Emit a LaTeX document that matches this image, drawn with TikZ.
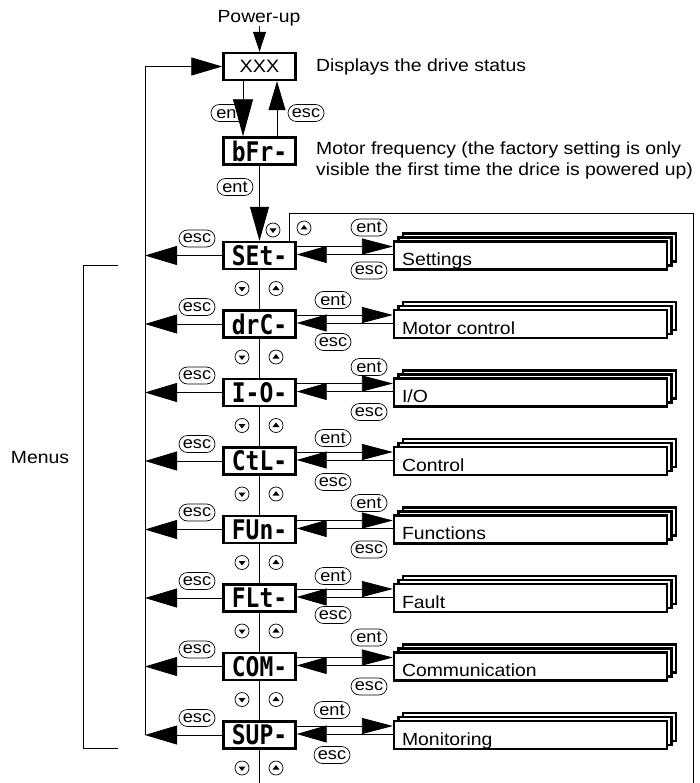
\documentclass[tikz,border=0pt]{standalone}
\usepackage{fontspec}
\setmainfont{Liberation Sans}[FakeStretch=1.1]
\newfontfamily\segfont{DejaVu Sans Mono}[FakeStretch=0.85]
\usetikzlibrary{arrows.meta,shapes.misc}
\begin{document}
\begin{tikzpicture}[x=1pt,y=-1pt,
  thinl/.style={line width=0.8pt},
  lbl/.style={font=\fontsize{17.6}{21}\selectfont, inner sep=0pt},
  segbox/.style={draw, line width=2.4pt, minimum width=72pt, minimum height=27pt, inner sep=0pt, fill=white, font=\segfont\bfseries\fontsize{27}{27}\selectfont},
  key/.style={draw, rounded rectangle, line width=0.7pt, minimum width=36pt, minimum height=17pt, inner sep=0pt, font=\fontsize{16.5}{16.5}\selectfont},
  btn/.style={draw, circle, line width=0.7pt, minimum size=14pt, inner sep=0pt},
  dnbtn/.style={btn, path picture={\fill ([shift={(-3.5pt,1.5pt)}]path picture bounding box.center) -- ++(7pt,0pt) -- ++(-3.5pt,-4.5pt) -- cycle;}},
  upbtn/.style={btn, path picture={\fill ([shift={(-3.5pt,-1.5pt)}]path picture bounding box.center) -- ++(7pt,0pt) -- ++(-3.5pt,4.5pt) -- cycle;}},
  frontbox/.style={draw, line width=2.2pt, fill=white, minimum width=273pt, minimum height=28pt, inner sep=0pt},
  backbox/.style={draw, line width=2.2pt, fill=white},
  arBig/.style={thinl, -{Triangle[length=32pt,width=19pt]}},
  arEnt/.style={thinl, -{Triangle[length=31pt,width=16pt]}},
  arEsc/.style={thinl, -{Triangle[length=30pt,width=17pt]}},
]
\useasboundingbox (0,0) rectangle (700,783);

% top part
\node[lbl] (pu) at (259,18) {Power-up};
\node[segbox, font=\fontsize{18}{21}\selectfont] (x) at (259.5,66.5) {XXX};
\node[segbox] (b) at (259.5,151) {bFr-};
\node[lbl, anchor=west] (t1) at (316,67) {Displays the drive status};
\node[lbl, anchor=west, align=left] (t2) at (316,160) {Motor frequency (the factory setting is only\\visible the first time the drice is powered up)};

\draw[thinl, -{Triangle[length=20pt,width=13pt]}] (pu.south -| x.north) -- (x.north);
\coordinate (dA) at (243,0);
\coordinate (uA) at (277,0);
\draw[thinl, -{Triangle[length=37pt,width=20pt]}] (dA |- x.south) -- (dA |- b.north);
\draw[thinl, -{Triangle[length=29pt,width=17pt]}] (uA |- b.north) -- (uA |- x.south);
\node[key] (k0a) at (229,113) {ent};
\node[key] (k0b) at (306,113) {esc};
\node[key] (k0c) at (235,187) {ent};

% left loop line
\coordinate (L) at (145,66.5);

% menus
\foreach \i/\c/\t/\s/\kx/\ey/\sy in {
  1/255.5/SEt-/Settings/369/28/15,
  2/324/drC-/Motor control/333/24/18,
  3/392.5/I-O-/I\slash O/369/25.5/19.5,
  4/461/CtL-/Control/333/23/21,
  5/529.5/FUn-/Functions/369/26.5/20,
  6/598/FLt-/Fault/333/22/17,
  7/666.5/COM-/Communication/369/29/20,
  8/735/SUP-/Monitoring/332/25/20}{
  \node[segbox] (m\i) at (259.5,\c) {\t};
  \draw[backbox] (403,\c-22) rectangle (676,\c+6);
  \draw[backbox] (398.5,\c-18) rectangle (671.5,\c+10);
  \node[frontbox] (s\i) at (530.5,\c) {};
  \node[lbl, anchor=base west] (st\i) at ([xshift=9pt,yshift=5pt]s\i.south west) {\s};
  \draw[arEnt] ([yshift=9pt]m\i.east) -- ([yshift=9pt]s\i.west);
  \draw[arEsc] ([yshift=1pt]s\i.west) -- ([yshift=1pt]m\i.east);
  \draw[arBig] (m\i.west) -- (m\i.west -| L);
  \node[key] (ke\i) at (\kx,\c-\ey) {ent};
  \node[key] (kc\i) at (\kx,\c+\sy) {esc};
  \node[key] (kl\i) at (197,\c-17) {esc};
  \node[dnbtn] (bd\i) at (242,\c+33) {};
  \node[upbtn] (bu\i) at (276,\c+33) {};
}

% spine
\draw[thinl, -{Triangle[length=34pt,width=19pt]}] (b.south) -- (m1.north);
\foreach \i/\j in {1/2,2/3,3/4,4/5,5/6,6/7,7/8}{
  \draw[thinl] (m\i.south) -- (m\j.north);
}
\coordinate (bot) at (259.5,783);
\draw[thinl] (m8.south) -- (bot);

\node[dnbtn] (bd0) at (273,230) {};
\node[upbtn] (bu0) at (304,228) {};

% left loop
\draw[thinl] (L |- m8.west) -- (L);
\draw[thinl, -{Triangle[length=31pt,width=18pt]}] (L) -- (x.west);

% frame
\coordinate (f1) at (289,213);
\coordinate (f2) at (693,213);
\coordinate (f3) at (693,783);
\draw[thinl] (f1 |- m1.north) -- (f1) -- (f2) -- (f3);

% bracket
\coordinate (g1) at (118,265);
\coordinate (g2) at (83,265);
\coordinate (g3) at (83,748);
\coordinate (g4) at (118,748);
\draw[thinl] (g1) -- (g2) -- (g3) -- (g4);
\node[lbl] (menus) at (40,458) {Menus};
\end{tikzpicture}
\end{document}
